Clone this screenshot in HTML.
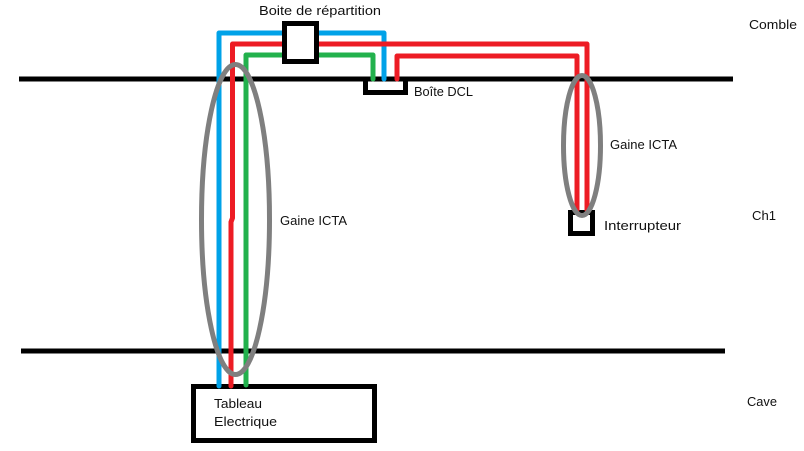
<!DOCTYPE html>
<html><head><meta charset="utf-8"><style>
html,body{margin:0;padding:0;background:#fff}
svg{display:block}
text{font-family:"Liberation Sans",sans-serif;font-size:13px;fill:#111}
</style></head><body>
<svg width="804" height="451" viewBox="0 0 804 451" xmlns="http://www.w3.org/2000/svg">
<rect width="804" height="451" fill="#fff"/>
<g fill="none" stroke-linejoin="round" stroke-linecap="round">
<path d="M19 79H733M21 351H725" stroke="#000" stroke-width="5" stroke-linecap="butt"/>
<g stroke="#000" stroke-width="5" stroke-linejoin="miter">
<rect x="193.500" y="386.500" width="181" height="54"/>
<path d="M365.500 81V92.500H405.500V81" stroke-linecap="butt"/>
<rect x="570.500" y="212.500" width="22" height="21"/>
</g>
<g stroke-width="5">
<path d="M219 386V33H384V79" stroke="#00a2e8"/>
<path d="M246 385V55H373V79" stroke="#22b14c"/>
<path d="M231 386V222L232.500 218V44H587V210" stroke="#ed1c24"/>
<path d="M397 79V56H577V210" stroke="#ed1c24"/>
</g>
<rect x="284.500" y="23.500" width="32" height="38" fill="#fff" stroke="#000" stroke-width="5" stroke-linejoin="miter"/>
<ellipse cx="235.500" cy="219.500" rx="34" ry="155" stroke="#7f7f7f" stroke-width="5"/>
<ellipse cx="582" cy="145.500" rx="18.500" ry="70" stroke="#7f7f7f" stroke-width="5"/>
</g>
<text x="259" y="15" textLength="122" lengthAdjust="spacingAndGlyphs">Boite de répartition</text>
<text x="749" y="29" textLength="48" lengthAdjust="spacingAndGlyphs">Comble</text>
<text x="414" y="96" textLength="59" lengthAdjust="spacingAndGlyphs">Boîte DCL</text>
<text x="610" y="149" textLength="67" lengthAdjust="spacingAndGlyphs">Gaine ICTA</text>
<text x="280" y="225" textLength="67" lengthAdjust="spacingAndGlyphs">Gaine ICTA</text>
<text x="604" y="230" textLength="77" lengthAdjust="spacingAndGlyphs">Interrupteur</text>
<text x="752" y="220" textLength="24" lengthAdjust="spacingAndGlyphs">Ch1</text>
<text x="747" y="406" textLength="30" lengthAdjust="spacingAndGlyphs">Cave</text>
<text x="214" y="408" textLength="48" lengthAdjust="spacingAndGlyphs">Tableau</text>
<text x="214" y="426" textLength="63" lengthAdjust="spacingAndGlyphs">Electrique</text>
</svg>
</body></html>
